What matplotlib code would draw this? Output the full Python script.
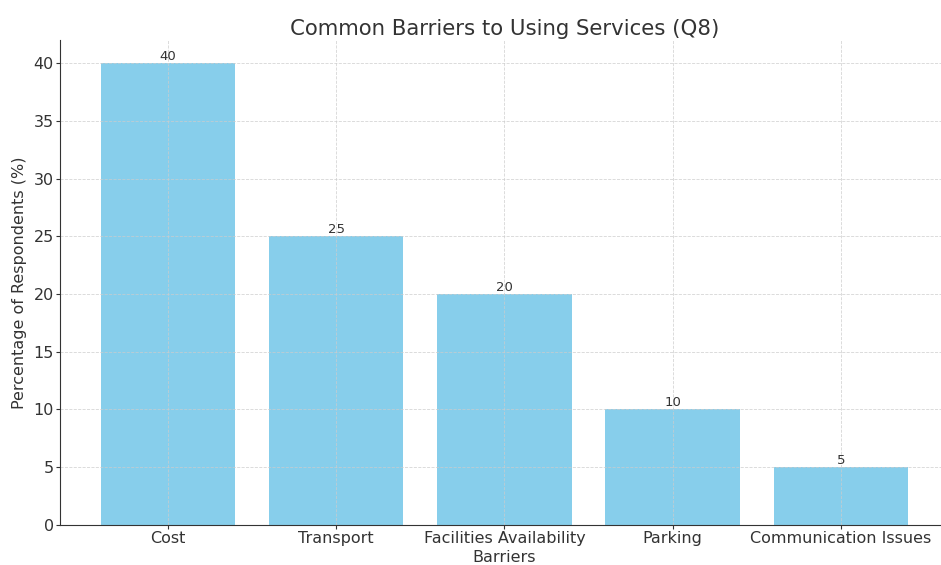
import matplotlib
matplotlib.use("Agg")
import matplotlib.pyplot as plt

categories = ["Cost", "Transport", "Facilities Availability", "Parking", "Communication Issues"]
values = [40, 25, 20, 10, 5]

plt.rcParams["text.color"] = "#333333"
plt.rcParams["axes.labelcolor"] = "#333333"
plt.rcParams["xtick.color"] = "#333333"
plt.rcParams["ytick.color"] = "#333333"

fig = plt.figure(figsize=(9.41, 5.65), dpi=100)
ax = fig.add_axes([0.064, 0.071, 0.944, 0.858])
bars = ax.bar(categories, values, color="skyblue", width=0.8)
for b, v in zip(bars, values):
    ax.text(b.get_x() + b.get_width() / 2, v, str(v), ha="center", va="bottom", fontsize=9.5, color="#333333")
ax.set_ylim(0, 42)
ax.set_yticks(range(0, 41, 5))
ax.grid(True, linestyle="--", linewidth=0.6, color="#cccccc", alpha=0.8)
ax.spines["top"].set_visible(False)
ax.spines["right"].set_visible(False)
for s in ("left", "bottom"):
    ax.spines[s].set_color("#333333")
ax.set_title("Common Barriers to Using Services (Q8)", fontsize=15.3, pad=4)
ax.set_xlabel("Barriers", fontsize=11.5, labelpad=3)
ax.set_ylabel("Percentage of Respondents (%)", fontsize=11.5, labelpad=5)
ax.tick_params(labelsize=11.5, length=3, pad=1.5)
fig.savefig("out.png", dpi=100)
